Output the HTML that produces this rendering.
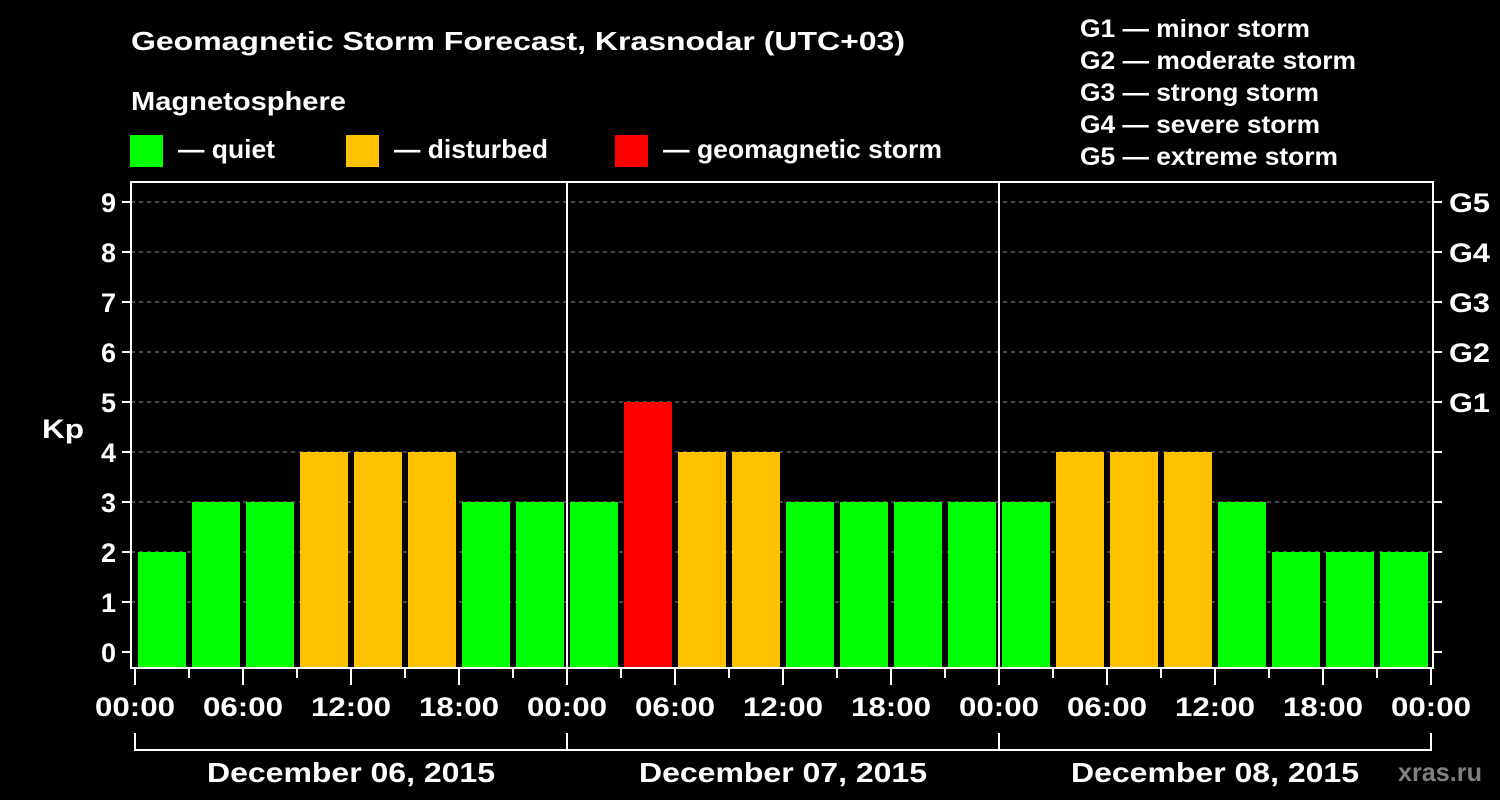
<!DOCTYPE html>
<html><head><meta charset="utf-8"><style>
html,body{margin:0;padding:0;background:#000;width:1500px;height:800px;overflow:hidden}
svg text{font-family:"Liberation Sans",sans-serif;font-weight:bold;fill:#fff}
</style></head><body>
<svg id="chart" width="1500" height="800" xmlns="http://www.w3.org/2000/svg">
<text x="131" y="50" font-size="26" textLength="774" lengthAdjust="spacingAndGlyphs">Geomagnetic Storm Forecast, Krasnodar (UTC+03)</text>
<text x="131" y="110" font-size="26" textLength="215" lengthAdjust="spacingAndGlyphs">Magnetosphere</text>
<g><rect x="130" y="135" width="33" height="32" fill="#00ff00"/><text x="178" y="158" font-size="26" textLength="97" lengthAdjust="spacingAndGlyphs">— quiet</text></g>
<g><rect x="346" y="135" width="33" height="32" fill="#ffc000"/><text x="394" y="158" font-size="26" textLength="154" lengthAdjust="spacingAndGlyphs">— disturbed</text></g>
<g><rect x="615" y="135" width="33" height="32" fill="#ff0000"/><text x="663" y="158" font-size="26" textLength="279" lengthAdjust="spacingAndGlyphs">— geomagnetic storm</text></g>
<g font-size="25">
<text x="1080" y="37" textLength="230" lengthAdjust="spacingAndGlyphs">G1 — minor storm</text>
<text x="1080" y="69" textLength="276" lengthAdjust="spacingAndGlyphs">G2 — moderate storm</text>
<text x="1080" y="101" textLength="239" lengthAdjust="spacingAndGlyphs">G3 — strong storm</text>
<text x="1080" y="133" textLength="240" lengthAdjust="spacingAndGlyphs">G4 — severe storm</text>
<text x="1080" y="165" textLength="258" lengthAdjust="spacingAndGlyphs">G5 — extreme storm</text>
</g>
<text x="42" y="438" font-size="27" textLength="42" lengthAdjust="spacingAndGlyphs">Kp</text>
<text x="1398" y="781" font-size="26" style="fill:#808080" textLength="84" lengthAdjust="spacingAndGlyphs">xras.ru</text>
<g id="grid"></g><g id="bars"></g><g id="axes"></g>
</svg>
<script>
const kpValues=[2,3,3,4,4,4,3,3, 3,5,4,4,3,3,3,3, 3,4,4,4,3,2,2,2];
const yTicks=[0,1,2,3,4,5,6,7,8,9];
const gLabels=["G1","G2","G3","G4","G5"];
const timeLabels=["00:00","06:00","12:00","18:00"];
const dayLabels=["December 06, 2015","December 07, 2015","December 08, 2015"];
const NS="http://www.w3.org/2000/svg";
const X0=135,HOUR=18,Y0=652,UNIT=50,TOP=182,BOT=668,LEFT=131,RIGHT=1433;
const xs=h=>X0+h*HOUR, ys=v=>Y0-v*UNIT;
function mk(tag,attrs,parent,txt){const e=document.createElementNS(NS,tag);for(const k in attrs)e.setAttribute(k,attrs[k]);if(txt!=null)e.textContent=txt;parent.appendChild(e);return e;}
const grid=document.getElementById('grid'),bars=document.getElementById('bars'),axes=document.getElementById('axes');
yTicks.forEach(v=>{
 if(v>0){const l=mk('line',{x1:LEFT,x2:RIGHT,y1:ys(v),y2:ys(v),stroke:'#888','stroke-width':1,'stroke-dasharray':'4,4'},grid);
 
 }
 const t=mk('line',{x1:122,x2:131,y1:ys(v),y2:ys(v),stroke:'#fff','stroke-width':2},axes);
 
 
 const lb=mk('text',{x:116,y:ys(v)+10,'font-size':27,'text-anchor':'end'},axes,String(v));
 
 
 const rt=mk('line',{x1:RIGHT,x2:1442,y1:ys(v),y2:ys(v),stroke:'#fff','stroke-width':2},axes);
 
 
 if(v>=5){const g=mk('text',{x:1449,y:ys(v)+10,'font-size':27,textLength:41,lengthAdjust:'spacingAndGlyphs'},axes,gLabels[v-5]);
 
 }
});
kpValues.forEach((v,i)=>{
 const c=v>=5?'#ff0000':(v>=4?'#ffc000':'#00ff00');
 const r=mk('rect',{x:xs(i*3)+3,y:ys(v),width:48,height:BOT-ys(v),fill:c},bars);
 
 
});
const frame=mk('rect',{x:LEFT,y:TOP,width:RIGHT-LEFT,height:BOT-TOP,fill:'none',stroke:'#fff','stroke-width':2},axes);


[1,2].forEach(d=>{const l=mk('line',{x1:xs(d*24),x2:xs(d*24),y1:TOP,y2:BOT,stroke:'#fff','stroke-width':2},axes);
 
 });
for(let h=0;h<=72;h+=3){
 const major=h%6===0;
 const t=mk('line',{x1:xs(h),x2:xs(h),y1:BOT,y2:major?685:678,stroke:'#fff','stroke-width':2},axes);
 
 
 if(major){const lb=mk('text',{x:xs(h)-40,y:716,'font-size':27,textLength:80,lengthAdjust:'spacingAndGlyphs'},axes,timeLabels[(h/6)%4]);
 
 }
}
dayLabels.forEach((d,i)=>{
 const a=xs(i*24),b=xs((i+1)*24);
 const p=mk('path',{d:`M${a} 733V750H${b}V733`,fill:'none',stroke:'#fff','stroke-width':2},axes);
 
 
 const t=mk('text',{x:(a+b)/2-144,y:782,'font-size':28,textLength:288,lengthAdjust:'spacingAndGlyphs'},axes,d);
 
 
});
</script>
</body></html>
